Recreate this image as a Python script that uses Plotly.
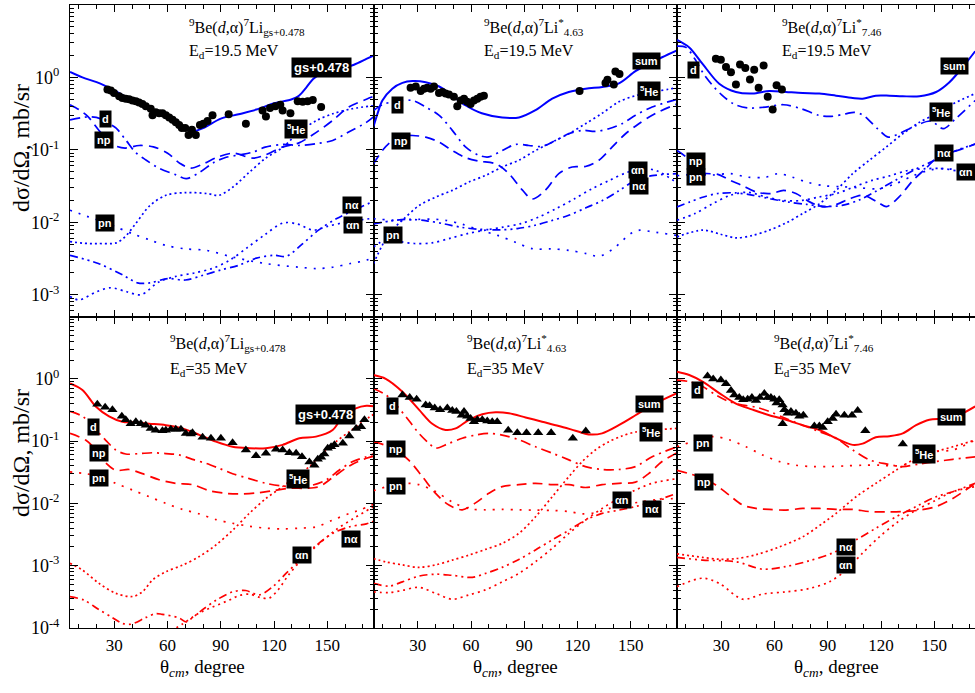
import math
import plotly.graph_objects as go

BLUE = "#0000ff"
RED = "#ff0000"

# ---------------- E_d = 19.5 MeV, 7Li g.s.+0.478 ----------------
gs19_sum = [(5, 1.19), (12, 1.0), (20, 0.86), (30, 0.66), (40, 0.48), (50, 0.36), (60, 0.29), (65, 0.25),
            (70, 0.2), (74, 0.18), (80, 0.2), (90, 0.27), (100, 0.31), (110, 0.36), (120, 0.44), (130, 0.5),
            (134, 0.56), (138, 0.72), (142, 0.95), (146, 1.1), (155, 1.27), (165, 1.5), (172, 1.8), (177, 2.05)]
gs19_d = [(5, 0.26), (12, 0.28), (17, 0.285), (22, 0.27), (27, 0.23), (31, 0.2), (36.6, 0.135), (42, 0.092),
          (48, 0.072), (55, 0.056), (65, 0.045), (70.5, 0.04), (78, 0.049), (86, 0.067), (93, 0.079), (100, 0.085),
          (108, 0.093), (115, 0.109), (125, 0.119), (134, 0.115), (144, 0.122), (153, 0.135), (162, 0.176),
          (172, 0.24), (177, 0.3)]
gs19_np = [(5, 0.42), (10, 0.36), (15, 0.29), (21, 0.19), (27, 0.13), (30, 0.115), (36, 0.106), (44, 0.115),
           (52, 0.11), (60, 0.09), (67, 0.065), (73, 0.056), (80, 0.064), (88, 0.079), (97, 0.09), (108, 0.077),
           (115, 0.085), (125, 0.11), (134, 0.125), (144, 0.176), (153, 0.255), (162, 0.39), (172, 0.5), (177, 0.56)]
gs19_pn = [(5, 0.0147), (15, 0.012), (21, 0.0107), (30, 0.0088), (40, 0.007), (50, 0.0057), (59, 0.0048),
           (70, 0.0043), (82, 0.0041), (97, 0.0033), (115, 0.0027), (134, 0.0024), (144, 0.0023), (153, 0.0024),
           (163, 0.0027), (172, 0.003), (177, 0.0034)]
gs19_he5 = [(5, 0.0054), (15, 0.0051), (21, 0.0051), (31, 0.0052), (36, 0.0063), (42, 0.0096), (50, 0.017),
            (59, 0.0236), (70, 0.0257), (82, 0.025), (89, 0.0236), (97, 0.031), (106, 0.049), (115, 0.076),
            (125, 0.109), (134, 0.176), (144, 0.255), (153, 0.315), (164, 0.37), (177, 0.41)]
gs19_na = [(5, 0.0035), (21, 0.0027), (35, 0.00186), (43, 0.00146), (50, 0.00146), (60, 0.00167), (70, 0.0016),
           (80, 0.00186), (90, 0.0022), (100, 0.00255), (110, 0.0032), (120, 0.0035), (127, 0.0034), (135, 0.0048),
           (145, 0.0078), (155, 0.0112), (165, 0.0147), (177, 0.02)]
gs19_an = [(5, 0.00095), (10, 0.00085), (20, 0.0011), (28, 0.00125), (37, 0.0011), (45, 0.001), (55, 0.0015),
           (65, 0.0018), (75, 0.002), (85, 0.0023), (95, 0.003), (105, 0.0045), (115, 0.0068), (125, 0.0098),
           (133, 0.0095), (142, 0.0078), (150, 0.0088), (160, 0.01), (177, 0.0115)]
gs19_exp = [(26.1, 0.68), (28.0, 0.66), (29.8, 0.61), (32.7, 0.55), (34.5, 0.52), (36.4, 0.51), (38.3, 0.50),
            (40.2, 0.48), (42.1, 0.47), (43.9, 0.45), (45.8, 0.43), (47.7, 0.40), (50.5, 0.37), (51.5, 0.30),
            (53.3, 0.33), (55.2, 0.32), (57.1, 0.32), (59.0, 0.30), (60.9, 0.28), (62.8, 0.26), (64.6, 0.24),
            (66.5, 0.22), (68.0, 0.20), (69.9, 0.20), (71.8, 0.16), (73.7, 0.19), (75.9, 0.16), (78.2, 0.22),
            (80.1, 0.23), (82.5, 0.25), (85.3, 0.30), (94.4, 0.31), (104.1, 0.23), (113.5, 0.35), (115.4, 0.29),
            (117.7, 0.38), (120.7, 0.40), (123.5, 0.42), (124.8, 0.35), (129.2, 0.32), (133.3, 0.47),
            (136.1, 0.46), (138.9, 0.47), (141.8, 0.49), (146.5, 0.39)]

# ---------------- E_d = 19.5 MeV, 7Li* 4.63 ----------------
s463_19_sum = [(5, 0.21), (7.5, 0.33), (10, 0.48), (15.6, 0.70), (21.3, 0.84), (27, 0.89), (34.4, 0.86), (42, 0.75),
               (49.4, 0.56), (57, 0.41), (66, 0.32), (77.5, 0.28), (87, 0.28), (96, 0.35), (105.7, 0.51),
               (115, 0.63), (124.5, 0.70), (134, 0.74), (143, 0.82), (152.6, 1.22), (160, 1.54), (167.6, 1.9),
               (176, 2.36)]
s463_19_d = [(5, 0.35), (10, 0.42), (17.5, 0.47), (27, 0.48), (34.4, 0.39), (42, 0.30), (49.4, 0.186), (57, 0.109),
             (64.4, 0.084), (70, 0.080), (77.5, 0.098), (85, 0.119), (92.5, 0.115), (100, 0.112), (107.6, 0.135),
             (115, 0.167), (122.6, 0.186), (130, 0.18), (137.6, 0.196), (145, 0.23), (152.6, 0.30), (162, 0.39),
             (176, 0.5)]
s463_19_np = [(5, 0.064), (10, 0.098), (15, 0.13), (21, 0.155), (27, 0.158), (34.4, 0.15), (42, 0.128),
              (49.4, 0.098), (57, 0.078), (64.4, 0.070), (74, 0.064), (81.3, 0.047), (88.8, 0.028), (94.4, 0.021),
              (102, 0.028), (109.4, 0.047), (117, 0.058), (124.4, 0.059), (132, 0.072), (139.4, 0.109),
              (147, 0.167), (154.5, 0.23), (164, 0.32), (176, 0.43)]
s463_19_pn = [(5, 0.0112), (20, 0.0106), (30, 0.011), (40, 0.011), (46, 0.0106), (55, 0.0094), (65, 0.0078),
              (75, 0.0066), (85, 0.0053), (95, 0.0043), (105, 0.0043), (115, 0.0041), (125, 0.0037), (132, 0.0034),
              (140, 0.0043), (150, 0.007), (155, 0.0078), (162, 0.0074), (176, 0.0066)]
s463_19_he5 = [(5, 0.0027), (13.8, 0.007), (21.3, 0.0107), (30.6, 0.017), (40, 0.0223), (49.4, 0.0276),
               (58.8, 0.036), (68.2, 0.0445), (77.5, 0.058), (86.9, 0.072), (96.3, 0.098), (105.7, 0.128),
               (115, 0.167), (124.5, 0.23), (133.8, 0.32), (143.2, 0.46), (152.6, 0.56), (165.7, 0.65), (176, 0.72)]
s463_19_na = [(5, 0.0095), (15, 0.0105), (25, 0.011), (35, 0.0105), (45, 0.0095), (55, 0.0085), (65, 0.008),
              (77.5, 0.0079), (86, 0.0082), (96, 0.0091), (105, 0.0105), (115, 0.0125), (125, 0.016), (134, 0.020),
              (143, 0.027), (152.6, 0.038), (162, 0.044), (176, 0.047)]
s463_19_an = [(5, 0.0046), (12, 0.0057), (20, 0.0054), (28, 0.0051), (38, 0.0052), (48, 0.006), (58, 0.007),
              (68, 0.0078), (78, 0.0086), (88, 0.0096), (98, 0.0118), (108, 0.0155), (118, 0.021), (128, 0.029),
              (138, 0.038), (148, 0.049), (158, 0.055), (165, 0.051), (176, 0.035)]
s463_19_exp = [(25.9, 0.72), (28.8, 0.75), (31.6, 0.65), (33.5, 0.70), (35.3, 0.72), (37.2, 0.70), (39.1, 0.75),
               (41.9, 0.61), (43.8, 0.63), (45.6, 0.60), (47.5, 0.58), (50.3, 0.54), (52.2, 0.40), (54.1, 0.48),
               (56.0, 0.51), (57.8, 0.46), (59.7, 0.43), (61.6, 0.48), (63.5, 0.51), (65.3, 0.54), (67.2, 0.56),
               (121.1, 0.65), (135.7, 0.84), (136.8, 0.93), (140.4, 0.80), (141.3, 1.21), (143.6, 1.12)]

# ---------------- E_d = 19.5 MeV, 7Li* 7.46 ----------------
s746_19_sum = [(5, 3.3), (11.9, 2.6), (19.4, 1.54), (28.8, 0.82), (38.2, 0.63), (47.6, 0.60), (57, 0.65),
               (66.4, 0.63), (75.8, 0.61), (85.2, 0.60), (94.6, 0.56), (104, 0.52), (109.6, 0.51), (117, 0.56),
               (124.7, 0.56), (132.2, 0.55), (141.6, 0.55), (151, 0.63), (158.5, 0.86), (166, 1.39), (173, 2.3)]
s746_19_d = [(5, 2.7), (10, 2.6), (15, 1.81), (20, 1.12), (25, 0.78), (30, 0.58), (37, 0.43), (45, 0.38),
             (55, 0.39), (65, 0.42), (75, 0.37), (85, 0.30), (92, 0.29), (100, 0.315), (105, 0.33), (110, 0.30),
             (118, 0.196), (124, 0.15), (130, 0.167), (140, 0.218), (148, 0.25), (155, 0.196), (162, 0.27),
             (173, 0.48)]
s746_19_np = [(5, 0.098), (10, 0.08), (15, 0.06), (20, 0.048), (28, 0.046), (35, 0.038), (42, 0.032), (50, 0.026),
              (58, 0.025), (65, 0.0276), (72, 0.025), (80, 0.019), (88, 0.0163), (95, 0.0177), (102, 0.021),
              (110, 0.0236), (118, 0.019), (123, 0.0165), (130, 0.0223), (138, 0.038), (145, 0.055), (152, 0.08),
              (160, 0.093), (166, 0.104), (173, 0.12)]
s746_19_pn = [(5, 0.044), (15, 0.046), (25, 0.045), (35, 0.047), (45, 0.042), (55, 0.042), (62, 0.047),
              (70, 0.042), (78, 0.036), (88, 0.032), (98, 0.031), (108, 0.03), (118, 0.029), (128, 0.034),
              (138, 0.044), (148, 0.053), (158, 0.055), (165, 0.05), (173, 0.044)]
s746_19_he5 = [(5, 0.0063), (19.4, 0.0078), (30, 0.0068), (38.2, 0.0061), (47.6, 0.0066), (57, 0.0078),
               (66.4, 0.0098), (75.8, 0.0132), (85.2, 0.018), (94.6, 0.0276), (104, 0.047), (113.4, 0.072),
               (122.8, 0.109), (132.2, 0.167), (141.6, 0.24), (151, 0.315), (160.4, 0.43), (173, 0.6)]
s746_19_na = [(5, 0.0163), (12, 0.019), (20, 0.0224), (28, 0.025), (38, 0.0255), (48, 0.0236), (58, 0.021),
              (68, 0.019), (78, 0.0177), (88, 0.0166), (98, 0.0171), (108, 0.0205), (118, 0.0276), (128, 0.038),
              (138, 0.052), (148, 0.068), (158, 0.0885), (165, 0.104), (173, 0.12)]
s746_19_an = [(5, 0.0107), (15, 0.0132), (25, 0.018), (35, 0.0236), (45, 0.026), (55, 0.0224), (65, 0.02),
              (75, 0.02), (85, 0.0224), (95, 0.025), (105, 0.031), (115, 0.038), (125, 0.044), (135, 0.052),
              (145, 0.055), (155, 0.055), (165, 0.05), (173, 0.047)]
s746_19_exp = [(26.9, 1.81), (29.7, 1.75), (32.6, 1.39), (35.4, 1.18), (38.2, 0.80), (40.5, 1.51), (43.5, 1.35),
               (46.1, 0.94), (48.5, 1.28), (51.0, 0.72), (53.8, 1.46), (56.1, 0.54), (58.9, 0.36), (61.1, 0.78),
               (64.1, 0.68)]

# ---------------- E_d = 35 MeV, 7Li g.s.+0.478 ----------------
gs35_sum = [(5, 0.84), (12, 0.66), (19.5, 0.36), (27, 0.25), (34.5, 0.205), (40, 0.20), (49.6, 0.19), (59, 0.18),
            (68.4, 0.16), (77.8, 0.126), (87.2, 0.098), (96.6, 0.081), (106, 0.077), (115.4, 0.077), (124.8, 0.087),
            (134.2, 0.111), (143.6, 0.118), (153, 0.151), (158.7, 0.247), (166, 0.336), (172, 0.37), (177, 0.36)]
gs35_d = [(5, 0.30), (12, 0.25), (18, 0.17), (25, 0.104), (30.8, 0.072), (36.4, 0.062), (44, 0.063), (51.5, 0.065),
          (59, 0.063), (66.5, 0.06), (74, 0.051), (81.6, 0.044), (89, 0.0366), (96.6, 0.030), (106, 0.025),
          (115.4, 0.021), (124.8, 0.019), (134.2, 0.0186), (141.8, 0.0197), (149.3, 0.0238), (156.8, 0.0344),
          (164.3, 0.047), (172, 0.056), (177, 0.064)]
gs35_np = [(5, 0.133), (13.8, 0.104), (20, 0.07), (25, 0.045), (30.8, 0.034), (38.3, 0.035), (45.8, 0.030),
           (55.2, 0.024), (64.6, 0.021), (74, 0.020), (83.4, 0.016), (92.8, 0.0145), (100.4, 0.0142),
           (109.8, 0.0147), (119.2, 0.016), (128.6, 0.0175), (138, 0.0175), (145.5, 0.0187), (153, 0.026),
           (162.4, 0.040), (172, 0.053), (177, 0.058)]
gs35_pn = [(5, 0.032), (14, 0.030), (21.4, 0.027), (30.8, 0.021), (40.2, 0.0164), (49.6, 0.0128), (59, 0.010),
           (68.4, 0.008), (77.8, 0.0068), (87.2, 0.0055), (96.6, 0.0048), (106, 0.0043), (115.4, 0.004),
           (124.8, 0.0039), (134.2, 0.004), (143.6, 0.0042), (153, 0.0054), (162.4, 0.0069), (168, 0.0078),
           (177, 0.0099)]
gs35_he5 = [(5, 0.00109), (12, 0.00085), (21.4, 0.00052), (30.8, 0.00036), (40.2, 0.00032), (45.8, 0.00038),
            (51.5, 0.00059), (59, 0.0008), (68.4, 0.00102), (77.8, 0.0014), (87.2, 0.00215), (96.6, 0.0037),
            (106, 0.0069), (115.4, 0.012), (124.8, 0.0186), (132.3, 0.027), (139.9, 0.039), (147.4, 0.064),
            (154.9, 0.098), (162.4, 0.142), (169.9, 0.205), (177, 0.28)]
gs35_na = [(5, 0.00032), (12.9, 0.00028), (21, 0.0002), (28.7, 0.000148), (34.3, 0.000119), (39.4, 0.000115),
           (47.9, 0.000148), (53.3, 0.00017), (56.9, 0.000166), (66.5, 0.000145), (70.5, 0.000125),
           (73.8, 0.000145), (79.5, 0.000195), (87.4, 0.00028), (96.6, 0.00038), (104, 0.0004), (111.7, 0.00034),
           (119.2, 0.00046), (126.7, 0.00075), (134.2, 0.0012), (143.6, 0.0021), (153, 0.0033), (162.4, 0.0042),
           (172, 0.0047), (177, 0.0053)]
gs35_an = [(62, 0.00009), (68.2, 0.000115), (77.8, 0.000174), (85.1, 0.000216), (94.7, 0.00028), (100, 0.00033),
           (106, 0.00035), (112, 0.00031), (117, 0.0003), (122, 0.0004), (128, 0.0007), (135, 0.0012),
           (145, 0.0022), (155, 0.0038), (165, 0.0058), (177, 0.0092)]
gs35_exp = [(20.4, 0.39), (24.8, 0.35), (28.9, 0.32), (34.2, 0.25), (36.4, 0.22), (39.2, 0.19), (42.1, 0.205),
            (44.9, 0.19), (47.7, 0.18), (50.5, 0.16), (53.3, 0.15), (57.1, 0.146), (59.0, 0.15), (61.8, 0.155),
            (64.6, 0.155), (67.5, 0.155), (70.3, 0.133), (73.1, 0.13), (74.0, 0.136), (79.7, 0.115), (84.4, 0.111),
            (90.0, 0.111), (96.6, 0.094), (104.1, 0.072), (109.8, 0.058), (115.4, 0.064), (121.1, 0.074),
            (124.8, 0.072), (128.6, 0.065), (132.4, 0.064), (135.7, 0.056), (139.9, 0.046), (142.7, 0.041),
            (144.6, 0.051), (146.5, 0.055), (148.3, 0.062), (150.2, 0.077), (152.1, 0.081), (154.0, 0.087),
            (158.7, 0.092), (162.4, 0.121), (166.2, 0.16), (169.0, 0.17), (170.9, 0.22)]

# ---------------- E_d = 35 MeV, 7Li* 4.63 ----------------
s463_35_sum = [(5, 1.15), (11.9, 1.0), (21.3, 0.62), (30.6, 0.32), (38.1, 0.19), (45.6, 0.151), (51.3, 0.16),
               (58.8, 0.22), (66.3, 0.27), (73.8, 0.29), (81.3, 0.28), (90.7, 0.24), (100, 0.205), (109.4, 0.175),
               (118.8, 0.147), (126.3, 0.128), (133.8, 0.133), (143.2, 0.18), (152.6, 0.26), (162, 0.38),
               (176, 0.59)]
s463_35_d = [(5, 0.70), (12, 0.55), (17, 0.40), (23.1, 0.25), (30.6, 0.133), (36.3, 0.092), (40, 0.077),
             (47.5, 0.092), (55, 0.111), (62.5, 0.125), (70, 0.133), (77.5, 0.125), (86.9, 0.105), (96.3, 0.081),
             (105.7, 0.064), (115.1, 0.050), (124.4, 0.039), (133.8, 0.035), (143.2, 0.035), (152.6, 0.039),
             (162, 0.056), (176, 0.081)]
s463_35_np = [(5, 0.098), (12, 0.085), (18, 0.07), (25, 0.049), (32.5, 0.027), (40, 0.0145), (47.5, 0.0094),
              (55, 0.0079), (62.5, 0.0102), (70, 0.0145), (77.5, 0.0186), (86.9, 0.020), (96.3, 0.021),
              (105.7, 0.020), (115.1, 0.020), (124.4, 0.018), (133.8, 0.020), (143.2, 0.021), (152.6, 0.022),
              (160, 0.030), (167.6, 0.047), (176, 0.065)]
s463_35_pn = [(5, 0.016), (14, 0.019), (23, 0.021), (30.6, 0.020), (40, 0.0155), (49.4, 0.0105), (58.8, 0.0082),
              (68, 0.0079), (77.5, 0.008), (87, 0.0079), (96, 0.0078), (106, 0.0077), (115, 0.0074), (122.6, 0.0068),
              (130, 0.0071), (138, 0.0083), (146, 0.0095), (155, 0.0105), (165, 0.0115), (176, 0.012)]
s463_35_he5 = [(5, 0.0013), (12, 0.00115), (21.3, 0.00103), (30.6, 0.00094), (40, 0.00103), (49.4, 0.00123),
               (58.8, 0.00148), (68.2, 0.00183), (77.5, 0.00228), (86.9, 0.0033), (96.3, 0.0061), (105.7, 0.0128),
               (115.1, 0.0269), (122.6, 0.047), (130, 0.072), (137.6, 0.098), (145, 0.121), (152.6, 0.14),
               (162, 0.15), (176, 0.16)]
s463_35_na = [(5, 0.00052), (13.8, 0.00047), (21.3, 0.00055), (30.6, 0.00068), (40, 0.00073), (49.4, 0.0007),
              (60.7, 0.00065), (68, 0.00075), (77.5, 0.00094), (86.9, 0.00126), (96.3, 0.00179), (105.7, 0.0026),
              (115.1, 0.0037), (124.4, 0.0054), (133.8, 0.0069), (143.2, 0.0078), (152.6, 0.0089), (162, 0.0106),
              (176, 0.0145)]
s463_35_an = [(5, 0.00038), (13.8, 0.00037), (21, 0.0004), (30.6, 0.00045), (40, 0.00036), (49.4, 0.00029),
              (58.8, 0.00034), (68.2, 0.00041), (77.5, 0.00055), (86.9, 0.00075), (96.3, 0.00116), (105.7, 0.0019),
              (115.1, 0.0033), (124.4, 0.0054), (133.8, 0.0083), (143.2, 0.012), (152.6, 0.0164), (162, 0.021),
              (176, 0.025)]
s463_35_exp = [(21.3, 0.55), (25.4, 0.50), (29.3, 0.47), (34.4, 0.38), (36.6, 0.37), (39.5, 0.34), (42.5, 0.32),
               (46.6, 0.34), (49.4, 0.31), (51.7, 0.30), (54.7, 0.26), (56.0, 0.30), (57.8, 0.25), (59.7, 0.23),
               (61.6, 0.205), (63.5, 0.22), (66.3, 0.22), (69.1, 0.21), (71.9, 0.205), (74.7, 0.205), (80.9, 0.15),
               (86.0, 0.136), (91.2, 0.136), (97.8, 0.136), (105.1, 0.136), (117.3, 0.111), (124.6, 0.145)]

# ---------------- E_d = 35 MeV, 7Li* 7.46 ----------------
s746_35_sum = [(5, 1.30), (11.9, 1.15), (19.4, 0.90), (28.8, 0.59), (38.2, 0.40), (47.6, 0.32), (57, 0.26),
               (66.4, 0.22), (75.8, 0.18), (85.2, 0.151), (94.6, 0.111), (104, 0.087), (109.6, 0.091), (117, 0.115),
               (124.7, 0.12), (132.2, 0.133), (139.7, 0.18), (147.2, 0.22), (154.7, 0.23), (162.3, 0.25),
               (173, 0.36)]
s746_35_d = [(5, 0.95), (11.9, 0.9), (19.4, 0.75), (26.9, 0.55), (34.4, 0.43), (42, 0.38), (49.5, 0.35), (57, 0.30),
             (66.4, 0.23), (75.8, 0.18), (85.2, 0.142), (94.6, 0.111), (104, 0.072), (113.4, 0.050), (122.8, 0.043),
             (132.2, 0.039), (141.6, 0.043), (151, 0.047), (160.4, 0.051), (173, 0.056)]
s746_35_np = [(5, 0.034), (12, 0.03), (20, 0.025), (26.9, 0.0197), (34.4, 0.0136), (42, 0.0094), (49.5, 0.0083),
              (57, 0.008), (66.4, 0.0078), (75.8, 0.0083), (85.2, 0.0083), (94.6, 0.008), (104, 0.008),
              (113.4, 0.0074), (122.8, 0.0073), (132.2, 0.0074), (141.6, 0.0078), (151, 0.0089), (160.4, 0.012),
              (173, 0.021)]
s746_35_pn = [(5, 0.081), (12, 0.095), (19, 0.11), (26, 0.118), (34.4, 0.105), (43.8, 0.081), (53.2, 0.060),
              (62.6, 0.047), (72, 0.041), (81.4, 0.039), (90.8, 0.039), (100.2, 0.040), (109.6, 0.041), (119, 0.041),
              (128.4, 0.040), (136, 0.044), (143.5, 0.056), (151, 0.068), (160.4, 0.072), (173, 0.104)]
s746_35_he5 = [(5, 0.00155), (19.4, 0.00136), (28.8, 0.00127), (38.2, 0.0013), (49.5, 0.0015), (62.6, 0.002),
               (75.8, 0.0029), (87.1, 0.0048), (94.6, 0.0069), (105.9, 0.0128), (117.1, 0.021), (128.4, 0.034),
               (139.7, 0.053), (151, 0.068), (160.4, 0.081), (173, 0.104)]
s746_35_na = [(5, 0.00136), (19.4, 0.00123), (38.2, 0.00116), (53.2, 0.00088), (66.4, 0.00097), (79.5, 0.0012),
              (92.7, 0.0016), (105.9, 0.0026), (117.1, 0.004), (128.4, 0.0061), (139.7, 0.0089), (151, 0.0128),
              (160.4, 0.0154), (173, 0.021)]
s746_35_an = [(5, 0.00046), (19.4, 0.00063), (28.8, 0.00052), (42, 0.00029), (53.2, 0.00035), (66.4, 0.00038),
              (79.5, 0.00043), (90.8, 0.00055), (100.2, 0.00085), (109.6, 0.0016), (119, 0.0029), (128.4, 0.0048),
              (139.7, 0.0078), (151, 0.0113), (160.4, 0.0154), (173, 0.0186)]
s746_35_exp = [(22.2, 1.11), (25.4, 0.99), (29.7, 0.96), (32.6, 0.83), (35.4, 0.65), (37.3, 0.55), (40.1, 0.50),
               (42.3, 0.46), (44.8, 0.47), (47.2, 0.50), (49.5, 0.45), (51.7, 0.50), (54.2, 0.58), (56.1, 0.50),
               (57.9, 0.50), (59.8, 0.47), (61.1, 0.41), (62.6, 0.46), (64.5, 0.38), (65.5, 0.32), (67.3, 0.28),
               (69.2, 0.30), (72.0, 0.28), (73.9, 0.25), (76.2, 0.26), (64.5, 0.19), (82.4, 0.175), (85.2, 0.175),
               (87.1, 0.166), (89.9, 0.205), (92.7, 0.23), (94.6, 0.27), (99.3, 0.26), (103.6, 0.26), (106.8, 0.31),
               (111.1, 0.147), (132.2, 0.090)]

# Curve labels: (text, theta, value)
gs19_labels = [("gs+0.478", 146.6, 1.37), ("d", 24.8, 0.27), ("np", 24.2, 0.135), ("pn", 24.8, 0.0097),
               ("<sup>5</sup>He", 132.5, 0.192), ("nα", 164.1, 0.0171), ("αn", 164.7, 0.0091)]
s463_19_labels = [("sum", 158.6, 1.68), ("<sup>5</sup>He", 160.4, 0.64), ("d", 18.4, 0.42), ("np", 20.3, 0.132),
                  ("αn", 153.9, 0.053), ("nα", 154.5, 0.0317), ("pn", 16.0, 0.0066)]
s746_19_labels = [("sum", 161.3, 1.43), ("d", 14.1, 1.28), ("<sup>5</sup>He", 153.8, 0.33), ("np", 15.6, 0.071),
                  ("pn", 15.6, 0.042), ("nα", 155.7, 0.092), ("αn", 167.9, 0.049)]
gs35_labels = [("gs+0.478", 148.7, 0.272), ("d", 18.5, 0.17), ("np", 21.4, 0.065), ("pn", 21.4, 0.026),
               ("<sup>5</sup>He", 133.7, 0.0246), ("αn", 135.6, 0.00149), ("nα", 163.4, 0.00265)]
s463_35_labels = [("sum", 160.3, 0.40), ("<sup>5</sup>He", 161.4, 0.142), ("d", 15.6, 0.366), ("np", 17.5, 0.074),
                  ("pn", 17.5, 0.019), ("αn", 145.1, 0.0113), ("nα", 162.0, 0.008)]
s746_35_labels = [("sum", 159.6, 0.24), ("d", 16.6, 0.66), ("pn", 19.4, 0.094), ("np", 20.3, 0.0223),
                  ("<sup>5</sup>He", 144.4, 0.062), ("nα", 100.2, 0.00197), ("αn", 100.2, 0.00101)]

TITLE_GS = "<sup>9</sup>Be(<i>d</i>,α)<sup>7</sup>Li<sub>gs+0.478</sub>"
TITLE_463 = "<sup>9</sup>Be(<i>d</i>,α)<sup>7</sup>Li<sup>*</sup><sub>4.63</sub>"
TITLE_746 = "<sup>9</sup>Be(<i>d</i>,α)<sup>7</sup>Li<sup>*</sup><sub>7.46</sub>"
E19 = "E<sub>d</sub>=19.5 MeV"
E35 = "E<sub>d</sub>=35 MeV"

panels = [
    dict(curves=[("sum", gs19_sum), ("d", gs19_d), ("np", gs19_np), ("pn", gs19_pn), ("he5", gs19_he5),
                 ("na", gs19_na), ("an", gs19_an)],
         exp=gs19_exp, labels=gs19_labels, color=BLUE, symbol="circle", title=TITLE_GS, energy=E19),
    dict(curves=[("sum", s463_19_sum), ("d", s463_19_d), ("np", s463_19_np), ("pn", s463_19_pn),
                 ("he5", s463_19_he5), ("na", s463_19_na), ("an", s463_19_an)],
         exp=s463_19_exp, labels=s463_19_labels, color=BLUE, symbol="circle", title=TITLE_463, energy=E19),
    dict(curves=[("sum", s746_19_sum), ("d", s746_19_d), ("np", s746_19_np), ("pn", s746_19_pn),
                 ("he5", s746_19_he5), ("na", s746_19_na), ("an", s746_19_an)],
         exp=s746_19_exp, labels=s746_19_labels, color=BLUE, symbol="circle", title=TITLE_746, energy=E19),
    dict(curves=[("sum", gs35_sum), ("d", gs35_d), ("np", gs35_np), ("pn", gs35_pn), ("he5", gs35_he5),
                 ("na", gs35_na), ("an", gs35_an)],
         exp=gs35_exp, labels=gs35_labels, color=RED, symbol="triangle-up", title=TITLE_GS, energy=E35),
    dict(curves=[("sum", s463_35_sum), ("d", s463_35_d), ("np", s463_35_np), ("pn", s463_35_pn),
                 ("he5", s463_35_he5), ("na", s463_35_na), ("an", s463_35_an)],
         exp=s463_35_exp, labels=s463_35_labels, color=RED, symbol="triangle-up", title=TITLE_463, energy=E35),
    dict(curves=[("sum", s746_35_sum), ("d", s746_35_d), ("np", s746_35_np), ("pn", s746_35_pn),
                 ("he5", s746_35_he5), ("na", s746_35_na), ("an", s746_35_an)],
         exp=s746_35_exp, labels=s746_35_labels, color=RED, symbol="triangle-up", title=TITLE_746, energy=E35),
]

DASH = {"sum": "solid", "d": "10px,5px,2px,5px", "np": "10px,6px", "pn": "2px,7px",
        "he5": "2px,3px", "na": "8px,4px,2px,4px,2px,4px", "an": "2px,4px"}

# ---- page geometry (pixels) ----
W, H = 975, 693
ML, MR, MT, MB = 70, 0, 5, 65
PW, PH = W - ML - MR, H - MT - MB
COL_PX = [(0, 303.5), (303.5, 607), (607, PW)]
PX_PER_DEG = 303.5 / 171.0
X_RANGES = [[5, 176], [5, 176], [5, 5 + (COL_PX[2][1] - COL_PX[2][0]) / PX_PER_DEG]]
ROW_DOM = [(0.5, 1.0), (0.0, 0.5)]
Y_RANGES = [[-3.3, 1.0], [-4.0, 1.0]]
TITLE_LEFT_PX = [[187, 482, 780], [168, 465, 772]]
TITLE_Y_PX = [(27, 51), (343, 369)]

SERIF = "Liberation Serif, Times New Roman, serif"
SANS = "Liberation Sans, Arial, sans-serif"

minor_y = [k * 10.0 ** e for e in range(-5, 2) for k in range(2, 10)]

fig = go.Figure()
layout = dict(width=W, height=H, margin=dict(l=ML, r=MR, t=MT, b=MB),
              plot_bgcolor="white", paper_bgcolor="white", showlegend=False)
annotations = []

for i, p in enumerate(panels):
    n = i + 1
    row, col = divmod(i, 3)
    xa = "x" if n == 1 else f"x{n}"
    ya = "y" if n == 1 else f"y{n}"
    for name, pts in p["curves"]:
        fig.add_trace(go.Scatter(
            x=[t for t, _ in pts], y=[v for _, v in pts], mode="lines",
            line=dict(color=p["color"], width=2.0 if name == "sum" else 1.7, dash=DASH[name],
                      shape="spline", smoothing=0.9),
            xaxis=xa, yaxis=ya, hoverinfo="skip"))
    fig.add_trace(go.Scatter(
        x=[t for t, _ in p["exp"]], y=[v for _, v in p["exp"]], mode="markers",
        marker=dict(symbol=p["symbol"], color="black", size=8 if p["symbol"] == "circle" else 9,
                    line=dict(width=0)),
        xaxis=xa, yaxis=ya, hoverinfo="skip"))

    c0, c1 = COL_PX[col]
    layout["xaxis" if n == 1 else f"xaxis{n}"] = dict(
        domain=[c0 / PW, c1 / PW], range=X_RANGES[col], anchor=ya,
        showline=True, linecolor="black", linewidth=1, mirror="ticks",
        ticks="inside", ticklen=7, tickwidth=1, tickcolor="black", tick0=0, dtick=30,
        minor=dict(ticks="inside", ticklen=4, tickwidth=1, tickcolor="black", tick0=0, dtick=10),
        showticklabels=(row == 1), ticklabelstandoff=2,
        tickfont=dict(family=SERIF, size=17, color="black"),
        showgrid=False, zeroline=False)
    yr = Y_RANGES[row]
    decades = [10.0 ** e for e in range(math.ceil(yr[0]), int(math.floor(yr[1])))]
    layout["yaxis" if n == 1 else f"yaxis{n}"] = dict(
        domain=list(ROW_DOM[row]), type="log", range=yr, anchor=xa,
        showline=True, linecolor="black", linewidth=1, mirror=("ticks" if col < 2 else False),
        ticks="inside", ticklen=8, tickwidth=1, tickcolor="black",
        tickvals=decades, ticktext=[f"10<sup>{round(math.log10(d))}</sup>" for d in decades],
        minor=dict(ticks="inside", ticklen=4, tickwidth=1, tickcolor="black", tickvals=minor_y),
        showticklabels=(col == 0), ticklabelstandoff=6,
        tickfont=dict(family=SERIF, size=18, color="black"),
        showgrid=False, zeroline=False)

    # panel title
    for k, txt in enumerate([p["title"], p["energy"]]):
        annotations.append(dict(
            text=txt, xref="paper", yref="paper",
            x=(TITLE_LEFT_PX[row][col] - ML) / PW, y=(MT + PH - TITLE_Y_PX[row][k]) / PH,
            xanchor="left", yanchor="middle", showarrow=False,
            font=dict(family=SERIF, size=16, color="black")))

    # curve labels
    for txt, th, val in p["labels"]:
        big = txt.startswith("gs")
        annotations.append(dict(
            text=f"<b>{txt}</b>", x=th, y=math.log10(val), xref=xa, yref=ya, showarrow=False,
            bgcolor="black", borderpad=2, xanchor="center", yanchor="middle",
            font=dict(family=SANS, size=13 if big else 11, color="white")))

# axis titles
for yc in (148, 453):
    annotations.append(dict(
        text="dσ/dΩ, mb/sr", xref="paper", yref="paper", x=(21 - ML) / PW, y=(MT + PH - yc) / PH,
        textangle=-90, showarrow=False, xanchor="center", yanchor="middle",
        font=dict(family=SERIF, size=24, color="black")))
for xc in (202, 515, 836):
    annotations.append(dict(
        text="θ<sub><i>cm</i></sub>, degree", xref="paper", yref="paper", x=(xc - ML) / PW,
        y=(MT + PH - 668) / PH, showarrow=False, xanchor="center", yanchor="middle",
        font=dict(family=SERIF, size=19, color="black")))

layout["annotations"] = annotations
fig.update_layout(**layout)
fig.write_html("out.html")
